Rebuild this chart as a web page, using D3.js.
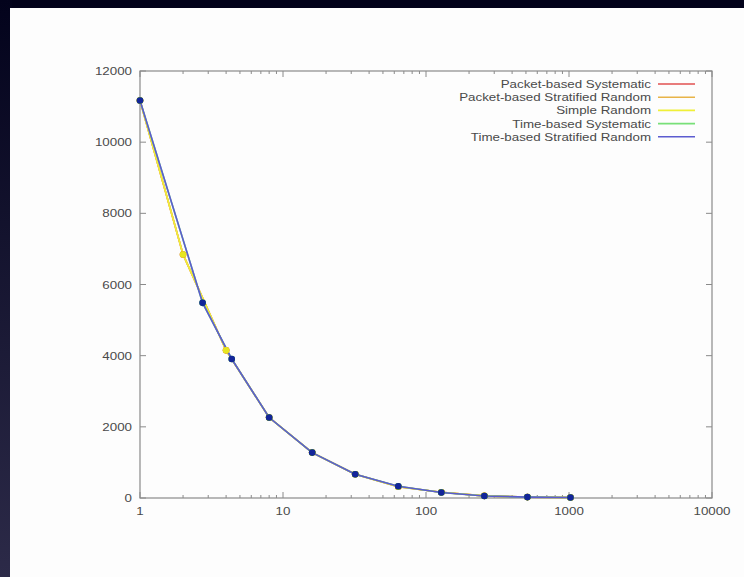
<!DOCTYPE html>
<html>
<head>
<meta charset="utf-8">
<script src="https://d3js.org/d3.v7.min.js"></script>
<style>
  html, body { margin: 0; padding: 0; background: #02021a; }
  svg { display: block; }
  text { font-family: "Liberation Sans", Arial, sans-serif; fill: #4a4a4a; }
</style>
</head>
<body>
<script>
// sample sizes (x) for the packet-based and time-based runs
const packetX = [1, 2, 4, 8, 16, 32, 64, 128, 256, 512, 1024];
const timeX = [1, 2.74, 4.38, 8, 16, 32, 64, 128, 256, 512, 1024];

const packetSystematic = [11170, 6845, 4150, 2262, 1276, 668, 318, 160, 60, 25, 12];
const packetStratified = [11170, 6845, 4150, 2262, 1276, 668, 318, 160, 60, 25, 12];
const simpleRandom = [11170, 6845, 4150, 2262, 1276, 668, 318, 160, 60, 25, 12];
const timeSystematic = [11170, 5485, 3907, 2262, 1276, 668, 330, 155, 58, 25, 12];
const timeStratified = [11170, 5485, 3907, 2262, 1276, 668, 330, 155, 58, 25, 12];

const seriesNames = ["Packet-based Systematic", "Packet-based Stratified Random", "Simple Random",
  "Time-based Systematic", "Time-based Stratified Random"];
const seriesColors = ["#e05050", "#e8b448", "#f0f038", "#78e078", "#5c5cd0"];
const pointColors = ["#d03030", "#e0a030", "#e6e620", "#30b030", "#13259a"];

const xTicks = [1, 10, 100, 1000, 10000];
const yTicks = [0, 2000, 4000, 6000, 8000, 10000, 12000];

const series = [
  {x: packetX, y: packetSystematic},
  {x: packetX, y: packetStratified},
  {x: packetX, y: simpleRandom},
  {x: timeX, y: timeSystematic},
  {x: timeX, y: timeStratified}
].map((s, i) => ({name: seriesNames[i], color: seriesColors[i], pcolor: pointColors[i],
  points: s.x.map((x, j) => ({x: x, y: s.y[j]}))}));

const W = 744, H = 577;
const svg = d3.select('body').append('svg').attr('width', W).attr('height', H);

// dark backdrop: left band gradient
const defs = svg.append('defs');
const grad = defs.append('linearGradient').attr('id', 'side').attr('x1', 0).attr('y1', 0).attr('x2', 0).attr('y2', 1);
grad.append('stop').attr('offset', '0%').attr('stop-color', '#03031c');
grad.append('stop').attr('offset', '100%').attr('stop-color', '#2c2a48');
svg.append('rect').attr('width', W).attr('height', H).attr('fill', '#02021a');
svg.append('rect').attr('x', 0).attr('y', 0).attr('width', 12).attr('height', H).attr('fill', 'url(#side)');
svg.append('rect').attr('x', 10).attr('y', 8).attr('width', W - 10).attr('height', H - 8).attr('fill', '#fdfdfd');

const m = {left: 140, right: 712, top: 71, bottom: 498};
const x = d3.scaleLog().domain([1, 10000]).range([m.left, m.right]);
const y = d3.scaleLinear().domain([0, 12000]).range([m.bottom, m.top]);

const axisColor = '#8a8a8a';
const stretch = 1.16; // the picture's text is a bit wide
const g = svg.append('g');

function label(parent, px, py, anchor, str) {
  parent.append('text').attr('transform', `translate(${px},${py}) scale(${stretch},1)`)
    .attr('dy', '0.35em').attr('text-anchor', anchor).style('font-size', '11.5px').text(str);
}

// minor log ticks bottom and top
const minor = [];
for (let d = 1; d < 10000; d *= 10) for (let k = 2; k <= 9; k++) minor.push(d * k);
minor.forEach(v => {
  g.append('line').attr('x1', x(v)).attr('x2', x(v)).attr('y1', m.bottom).attr('y2', m.bottom - 3).attr('stroke', axisColor);
  g.append('line').attr('x1', x(v)).attr('x2', x(v)).attr('y1', m.top).attr('y2', m.top + 3).attr('stroke', axisColor);
});
xTicks.forEach(v => {
  g.append('line').attr('x1', x(v)).attr('x2', x(v)).attr('y1', m.bottom).attr('y2', m.bottom - 6).attr('stroke', axisColor);
  g.append('line').attr('x1', x(v)).attr('x2', x(v)).attr('y1', m.top).attr('y2', m.top + 6).attr('stroke', axisColor);
  label(g, x(v), m.bottom + 13, 'middle', v);
});
yTicks.forEach(v => {
  g.append('line').attr('x1', m.left).attr('x2', m.left + 6).attr('y1', y(v)).attr('y2', y(v)).attr('stroke', axisColor);
  g.append('line').attr('x1', m.right).attr('x2', m.right - 6).attr('y1', y(v)).attr('y2', y(v)).attr('stroke', axisColor);
  label(g, m.left - 8, y(v), 'end', v);
});
g.append('rect').attr('x', m.left).attr('y', m.top).attr('width', m.right - m.left).attr('height', m.bottom - m.top)
  .attr('fill', 'none').attr('stroke', axisColor).attr('stroke-width', 1.2);

// lines and points
const line = d3.line().x(d => x(d.x)).y(d => y(d.y));
series.forEach(s => {
  svg.append('path').datum(s.points).attr('d', line).attr('fill', 'none')
    .attr('stroke', s.color).attr('stroke-width', 1.6);
});
series.forEach(s => {
  svg.append('g').selectAll('circle').data(s.points).join('circle')
    .attr('cx', d => x(d.x)).attr('cy', d => y(d.y)).attr('r', 3.3).attr('fill', s.pcolor);
});

// legend
const lg = svg.append('g');
series.forEach((s, i) => {
  const ly = 84 + i * 13.2;
  label(lg, 651, ly, 'end', s.name);
  lg.append('line').attr('x1', 658).attr('x2', 695).attr('y1', ly).attr('y2', ly)
    .attr('stroke', s.color).attr('stroke-width', 1.6);
});
</script>
</body>
</html>
